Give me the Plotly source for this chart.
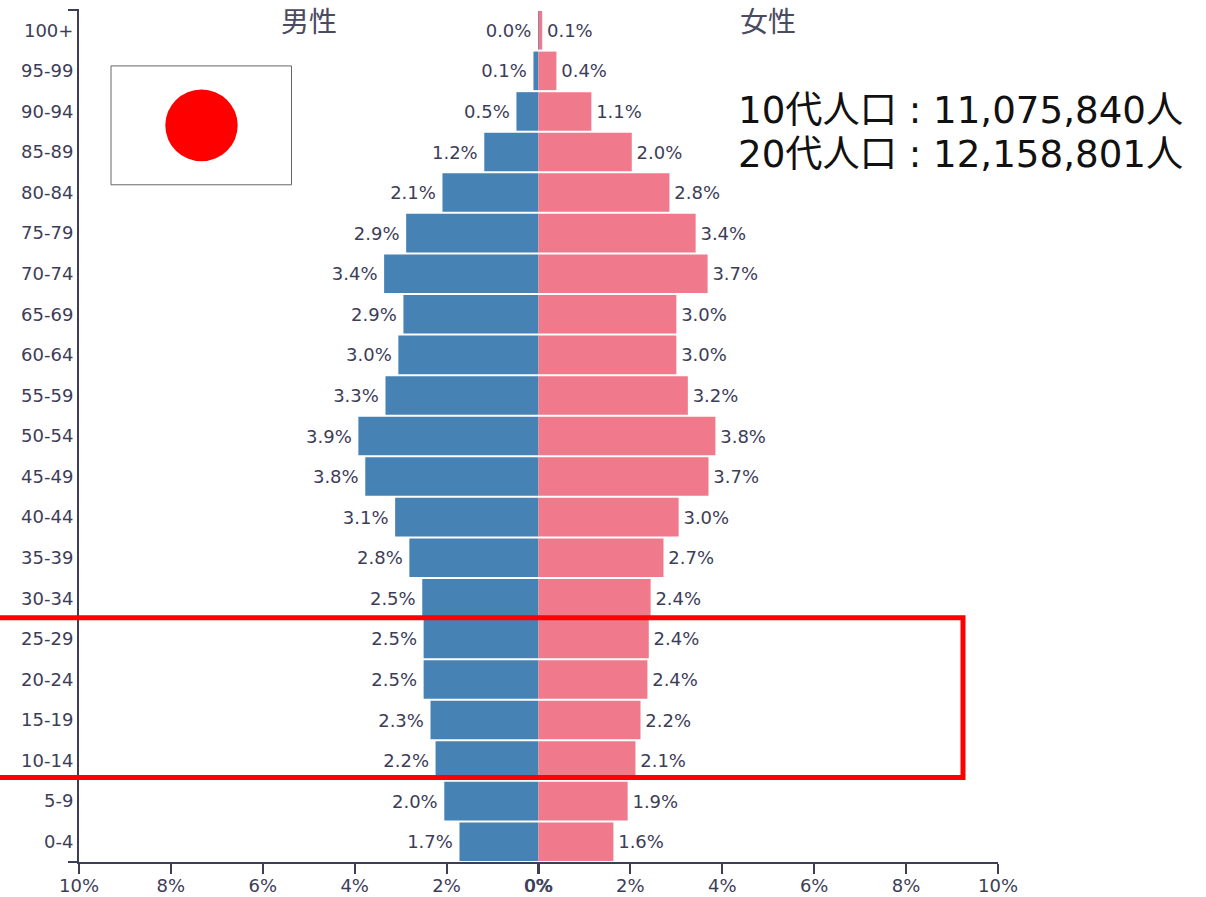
import plotly.graph_objects as go

age_groups = ["0-4","5-9","10-14","15-19","20-24","25-29","30-34","35-39","40-44","45-49","50-54",
              "55-59","60-64","65-69","70-74","75-79","80-84","85-89","90-94","95-99","100+"]
male_values = [1.72,2.05,2.24,2.35,2.50,2.50,2.53,2.81,3.12,3.77,3.92,3.33,3.05,2.94,3.36,2.88,2.09,1.18,0.48,0.11,0.01]
female_values = [1.63,1.94,2.11,2.22,2.37,2.40,2.44,2.72,3.05,3.70,3.85,3.25,3.00,3.00,3.68,3.42,2.85,2.03,1.15,0.39,0.08]
male_labels = ["1.7%","2.0%","2.2%","2.3%","2.5%","2.5%","2.5%","2.8%","3.1%","3.8%","3.9%","3.3%","3.0%","2.9%","3.4%","2.9%","2.1%","1.2%","0.5%","0.1%","0.0%"]
female_labels = ["1.6%","1.9%","2.1%","2.2%","2.4%","2.4%","2.4%","2.7%","3.0%","3.7%","3.8%","3.2%","3.0%","3.0%","3.7%","3.4%","2.8%","2.0%","1.1%","0.4%","0.1%"]
x_ticks = [-10,-8,-6,-4,-2,-0.01,0.01,2,4,6,8,10]
x_tick_labels = ["10%","8%","6%","4%","2%","0%","0%","2%","4%","6%","8%","10%"]
info_lines = ["10代人口 : 11,075,840人", "20代人口 : 12,158,801人"]

W, H = 1206, 897
L, R, T, B = 79.0, 998.0, 9.5, 862.5
INK = "#3d3d58"
FONT = "DejaVu Sans, Noto Sans CJK JP"
HAIR = "\u200a"

def px(x): return (x - L) / (R - L)
def py(y): return (B - y) / (B - T)

fig = go.Figure()
fig.add_bar(y=age_groups, x=[-v for v in male_values], orientation="h", marker=dict(color="#4682b4", line=dict(width=0)),
            text=[s + HAIR + HAIR for s in male_labels], textposition="outside", textangle=0, cliponaxis=False,
            textfont=dict(size=18, color=INK, family=FONT), showlegend=False)
fig.add_bar(y=age_groups, x=female_values, orientation="h", marker=dict(color="#f07a8b", line=dict(width=0)),
            text=[HAIR + s for s in female_labels], textposition="outside", textangle=0, cliponaxis=False,
            textfont=dict(size=18, color=INK, family=FONT), showlegend=False)

def line(x0, y0, x1, y1, color=INK, width=2):
    return dict(type="line", xref="paper", yref="paper", x0=px(x0), y0=py(y0), x1=px(x1), y1=py(y1),
                line=dict(color=color, width=width), layer="above")

shapes = [
    line(68, T, L, T), line(68, B, L, B),
    dict(type="rect", xref="paper", yref="paper", x0=px(111), x1=px(291.5), y0=py(65.5), y1=py(184.5),
         line=dict(color="#666666", width=1), fillcolor="white", layer="above"),
    dict(type="circle", xref="paper", yref="paper", x0=px(165.3), x1=px(237.7), y0=py(89), y1=py(161),
         line=dict(width=0), fillcolor="#ff0000", layer="above"),
    dict(type="path", xref="paper", yref="paper",
         path=f"M {px(0)} {py(618)} L {px(963)} {py(618)} L {px(963)} {py(778)} L {px(0)} {py(778)}",
         line=dict(color="#ff0000", width=5), layer="above"),
]
annotations = [
    dict(text="男性", x=px(308.5), y=py(20), font=dict(size=28, color="#4a4a60", family="Noto Sans CJK JP")),
    dict(text="女性", x=px(768), y=py(20), font=dict(size=28, color="#4a4a60", family="Noto Sans CJK JP")),
    dict(text=info_lines[0], x=px(736), y=py(110), xanchor="left", font=dict(size=37.2, color="#111111", family=FONT)),
    dict(text=info_lines[1], x=px(736), y=py(154), xanchor="left", font=dict(size=37.2, color="#111111", family=FONT)),
]
for a in annotations:
    a.update(xref="paper", yref="paper", showarrow=False, yanchor="middle")
    a.setdefault("xanchor", "center")

fig.update_layout(
    width=W, height=H, autosize=False, paper_bgcolor="white", plot_bgcolor="white",
    margin=dict(l=L, r=W - R, t=T, b=H - B, pad=0, autoexpand=False), barmode="overlay", bargap=0.05,
    font=dict(family=FONT, color=INK), shapes=shapes, annotations=annotations,
    xaxis=dict(range=[-10, 10], tickmode="array", tickvals=x_ticks, ticktext=x_tick_labels, showgrid=False, zeroline=False,
               automargin=False, showline=True, linecolor=INK, linewidth=2, ticks="outside", ticklen=10, tickwidth=2, tickcolor=INK,
               tickangle=0, ticklabelstandoff=-4, tickfont=dict(size=18, color=INK, family=FONT)),
    yaxis=dict(type="category", categoryorder="array", categoryarray=age_groups, range=[-0.5, 20.5], showgrid=False, zeroline=False,
               automargin=False, showline=True, linecolor=INK, linewidth=2, ticks="",
               ticklabelstandoff=0, tickfont=dict(size=18, color=INK, family=FONT)),
)
fig.write_html("out.html", config={"displayModeBar": False},
               post_script="document.body.style.margin='0';document.documentElement.style.overflow='hidden';")
